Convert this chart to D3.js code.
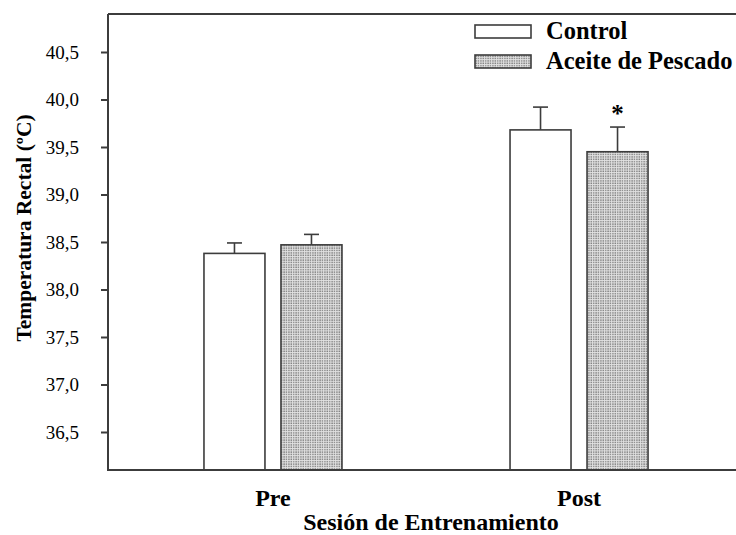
<!DOCTYPE html>
<html>
<head>
<meta charset="utf-8">
<script src="https://cdn.jsdelivr.net/npm/d3@7"></script>
<style>
  html, body { margin: 0; padding: 0; background: #fff; }
  svg { display: block; }
  svg text { font-family: "Liberation Serif", "Times New Roman", serif !important; fill: #000; }
</style>
</head>
<body>
<svg id="chart" width="736" height="535"></svg>
<script>
// ---- Data ----
const sessions = ["Pre", "Post"];
const seriesNames = ["Control", "Aceite de Pescado"];
const controlMeans = [38.38, 39.68];
const controlErr = [0.11, 0.24];
const fishMeans = [38.47, 39.45];
const fishErr = [0.11, 0.26];
const significant = [false, true]; // asterisk over Aceite de Pescado
const yTicks = [36.5, 37.0, 37.5, 38.0, 38.5, 39.0, 39.5, 40.0, 40.5];
const yDomain = [36.1, 40.9];

const rows = [];
sessions.forEach((s, i) => {
  rows.push({ session: s, series: seriesNames[0], mean: controlMeans[i], err: controlErr[i], star: false });
  rows.push({ session: s, series: seriesNames[1], mean: fishMeans[i], err: fishErr[i], star: significant[i] });
});

// ---- Layout ----
const svg = d3.select("#chart");
const mLeft = 108, mRight = 744, mTop = 14, mBottom = 470;
const axisColor = "#3c3c3c";
const serif = "'Liberation Serif', 'Times New Roman', serif";

const x0 = d3.scalePoint().domain(sessions).range([mLeft, mRight]).padding(0.539);
const x1 = d3.scaleBand().domain(seriesNames).range([-69, 69]).paddingInner(0.208);
const y = d3.scaleLinear().domain(yDomain).range([mBottom, mTop]);

// pattern
const defs = svg.append("defs");
const pat = defs.append("pattern")
  .attr("id", "dots").attr("patternUnits", "userSpaceOnUse")
  .attr("width", 2.4).attr("height", 2.4);
pat.append("rect").attr("width", 2.4).attr("height", 2.4).attr("fill", "#e2e2e2");
pat.append("rect").attr("x", 0.3).attr("y", 0.3).attr("width", 1.2).attr("height", 1.2).attr("fill", "#5e5e5e");

const fillFor = s => s === seriesNames[0] ? "#ffffff" : "url(#dots)";

// bars
const g = svg.append("g");
g.selectAll("rect.bar").data(rows).join("rect")
  .attr("class", "bar")
  .attr("x", d => x0(d.session) + x1(d.series))
  .attr("width", x1.bandwidth())
  .attr("y", d => y(d.mean))
  .attr("height", d => y(yDomain[0]) - y(d.mean))
  .attr("fill", d => fillFor(d.series))
  .attr("stroke", axisColor).attr("stroke-width", 1.6);

// error bars
const cx = d => x0(d.session) + x1(d.series) + x1.bandwidth() / 2;
g.selectAll("line.err").data(rows).join("line")
  .attr("class", "err")
  .attr("x1", cx).attr("x2", cx)
  .attr("y1", d => y(d.mean)).attr("y2", d => y(d.mean + d.err))
  .attr("stroke", axisColor).attr("stroke-width", 1.6);
g.selectAll("line.cap").data(rows).join("line")
  .attr("class", "cap")
  .attr("x1", d => cx(d) - 7.5).attr("x2", d => cx(d) + 7.5)
  .attr("y1", d => y(d.mean + d.err)).attr("y2", d => y(d.mean + d.err))
  .attr("stroke", axisColor).attr("stroke-width", 1.6);

// asterisk
g.selectAll("text.star").data(rows.filter(d => d.star)).join("text")
  .attr("class", "star")
  .attr("x", cx).attr("y", d => y(d.mean + d.err) - 5)
  .attr("text-anchor", "middle")
  .attr("font-size", 25).attr("font-weight", "bold")
  .text("*");

// axes frame
const frame = svg.append("g").attr("stroke", axisColor).attr("stroke-width", 2);
frame.append("line").attr("x1", mLeft).attr("x2", mLeft).attr("y1", mTop).attr("y2", mBottom + 1);
frame.append("line").attr("x1", mLeft).attr("x2", 736).attr("y1", mBottom).attr("y2", mBottom);
frame.append("line").attr("x1", mLeft).attr("x2", 736).attr("y1", mTop).attr("y2", mTop);

// y axis
const fmt = v => d3.format(".1f")(v).replace(".", ",");
const yAxis = svg.append("g")
  .attr("transform", `translate(${mLeft},0)`)
  .call(d3.axisLeft(y).tickValues(yTicks).tickFormat(fmt).tickSize(7).tickPadding(22));
yAxis.attr("font-family", serif);
yAxis.select(".domain").remove();
yAxis.selectAll(".tick line").attr("stroke", axisColor).attr("stroke-width", 2);
yAxis.selectAll(".tick text")
  .style("font-family", serif).attr("font-size", 19).attr("fill", "#000");

// x labels
svg.selectAll("text.xlab").data(sessions).join("text")
  .attr("class", "xlab")
  .attr("x", d => x0(d)).attr("y", 506)
  .attr("text-anchor", "middle")
  .attr("font-size", 24).attr("font-weight", "bold")
  .text(d => d);

svg.append("text")
  .attr("x", 431).attr("y", 530)
  .attr("text-anchor", "middle")
  .attr("font-size", 24).attr("font-weight", "bold")
  .text("Sesión de Entrenamiento");

svg.append("text")
  .attr("transform", "translate(31,228) rotate(-90)")
  .attr("text-anchor", "middle")
  .attr("font-size", 21.5).attr("font-weight", "bold")
  .text("Temperatura Rectal (ºC)");

// legend
const legend = svg.append("g");
seriesNames.forEach((s, i) => {
  const ly = 25 + i * 30;
  legend.append("rect")
    .attr("x", 475).attr("y", ly).attr("width", 56).attr("height", 13)
    .attr("fill", fillFor(s)).attr("stroke", axisColor).attr("stroke-width", 1.6);
  legend.append("text")
    .attr("x", 546).attr("y", ly + 14)
    .attr("font-size", 24.5).attr("font-weight", "bold")
    .text(s);
});
</script>
</body>
</html>
